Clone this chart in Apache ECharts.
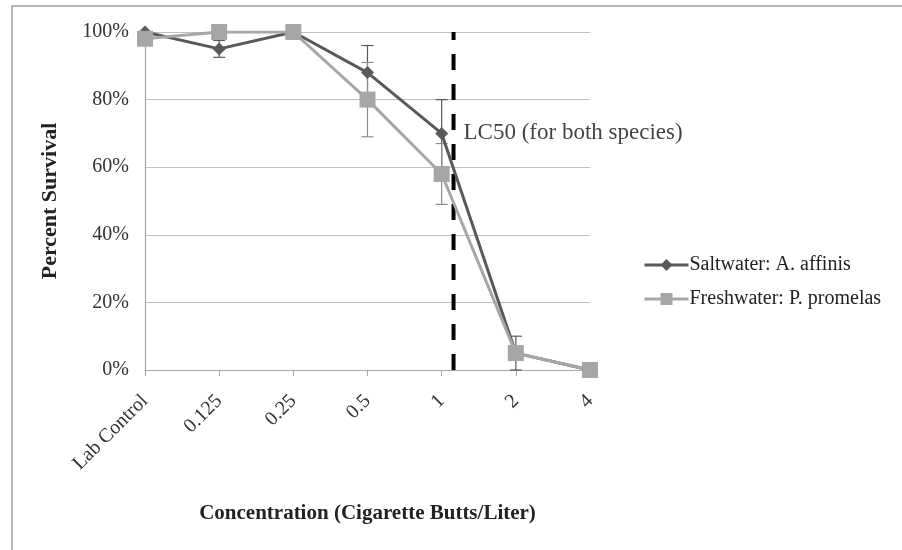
<!DOCTYPE html>
<html><head><meta charset="utf-8">
<script src="https://cdn.jsdelivr.net/npm/echarts@6/dist/echarts.min.js"></script>
<style>html,body{margin:0;padding:0;background:#fff}#c{width:902px;height:550px}</style>
</head><body><div id="c"></div>
<script>
var categories = ['Lab Control', '0.125', '0.25', '0.5', '1', '2', '4'];
var saltwater = [100, 95, 100, 88, 70, 5, 0];
var saltErr = [0, 2.5, 0, 8, 10, 5, 0];
var freshwater = [98, 100, 100, 80, 58, 5, 0];
var freshErr = [0, 0, 0, 11, 9, 0, 0];
var yTicks = [0, 20, 40, 60, 80, 100];
var lc50Position = 4.16;
var lc50Label = 'LC50 (for both species)';

var FONT = '"Liberation Serif", "Times New Roman", serif';
function errData(vals, errs) {
  var out = [];
  for (var i = 0; i < vals.length; i++) {
    if (errs[i] > 0) out.push([i, vals[i] - errs[i], vals[i] + errs[i]]);
  }
  return out;
}
function errRender(color) {
  return function (params, api) {
    var x = api.value(0);
    var lo = api.coord([x, api.value(1)]);
    var hi = api.coord([x, api.value(2)]);
    var w = 6;
    var st = { stroke: color, lineWidth: 1.2 };
    return { type: 'group', children: [
      { type: 'line', shape: { x1: lo[0], y1: lo[1], x2: hi[0], y2: hi[1] }, style: st },
      { type: 'line', shape: { x1: lo[0] - w, y1: lo[1], x2: lo[0] + w, y2: lo[1] }, style: st },
      { type: 'line', shape: { x1: hi[0] - w, y1: hi[1], x2: hi[0] + w, y2: hi[1] }, style: st }
    ]};
  };
}
var chart = echarts.init(document.getElementById('c'), null, { renderer: 'canvas' });
chart.setOption({
  animation: false,
  backgroundColor: '#fff',
  textStyle: { fontFamily: FONT },
  graphic: [{ type: 'rect', shape: { x: 12, y: 6, width: 900, height: 560 }, style: { fill: 'none', stroke: '#a0a0a0', lineWidth: 1.5 }, silent: true }],
  grid: { left: 145, right: 312, top: 32, bottom: 180 },
  legend: {
    orient: 'vertical', left: 638, top: 250, itemGap: 14, itemWidth: 44, itemHeight: 15,
    textStyle: { fontFamily: FONT, fontSize: 20, color: '#222', padding: [0, 0, 0, -4] },
    data: [
      { name: 'Saltwater: A. affinis', itemStyle: { color: '#595959' }, lineStyle: { width: 3 } },
      { name: 'Freshwater: P. promelas', itemStyle: { color: '#a6a6a6' }, lineStyle: { width: 3 } }
    ]
  },
  xAxis: [{
    type: 'category', data: categories, boundaryGap: false,
    axisLine: { lineStyle: { color: '#a6a6a6', width: 1.2 } },
    axisTick: { show: true, length: 6, lineStyle: { color: '#a6a6a6' } },
    axisLabel: { rotate: 45, fontFamily: FONT, fontSize: 20, color: '#333', margin: 28 },
    splitLine: { show: false },
    name: 'Concentration (Cigarette Butts/Liter)', nameLocation: 'middle', nameGap: 133,
    nameTextStyle: { fontFamily: FONT, fontSize: 21, fontWeight: 'bold', color: '#222' }
  }, {
    type: 'value', min: 0, max: categories.length - 1, show: false
  }],
  yAxis: {
    type: 'value', min: 0, max: 100, interval: 20,
    axisLine: { show: true, lineStyle: { color: '#a6a6a6', width: 1.2 } },
    axisTick: { show: false },
    axisLabel: { formatter: function (v) { return yTicks.indexOf(v) >= 0 ? v + '%' : ''; }, fontFamily: FONT, fontSize: 20, color: '#333', margin: 16 },
    splitLine: { lineStyle: { color: '#bfbfbf', width: 1.2 } },
    name: 'Percent Survival', nameLocation: 'middle', nameGap: 84,
    nameTextStyle: { fontFamily: FONT, fontSize: 22, fontWeight: 'bold', color: '#222' }
  },
  series: [
    { type: 'custom', name: 'saltErr', renderItem: errRender('#595959'), data: errData(saltwater, saltErr), z: 3, encode: { x: 0, y: [1, 2] } },
    { type: 'custom', name: 'freshErr', renderItem: errRender('#8c8c8c'), data: errData(freshwater, freshErr), z: 3, encode: { x: 0, y: [1, 2] } },
    {
      type: 'line', xAxisIndex: 1, data: [[lc50Position, 0], [lc50Position, 100]], symbol: 'none',
      lineStyle: { color: '#000', width: 4, type: [16, 14] }, z: 4, silent: true
    },
    {
      type: 'scatter', xAxisIndex: 1, data: [[lc50Position, 70]], symbolSize: 0, z: 6,
      label: { show: true, position: 'right', distance: 10, formatter: lc50Label, fontFamily: FONT, fontSize: 23, color: '#111' }
    },
    {
      type: 'line', name: 'Saltwater: A. affinis', data: saltwater, symbol: 'diamond', symbolSize: 13,
      itemStyle: { color: '#595959' }, lineStyle: { color: '#595959', width: 3 }, z: 5
    },
    {
      type: 'line', name: 'Freshwater: P. promelas', data: freshwater, symbol: 'rect', symbolSize: 16,
      itemStyle: { color: '#a6a6a6' }, lineStyle: { color: '#a6a6a6', width: 3 }, z: 5
    }
  ]
});
</script></body></html>
